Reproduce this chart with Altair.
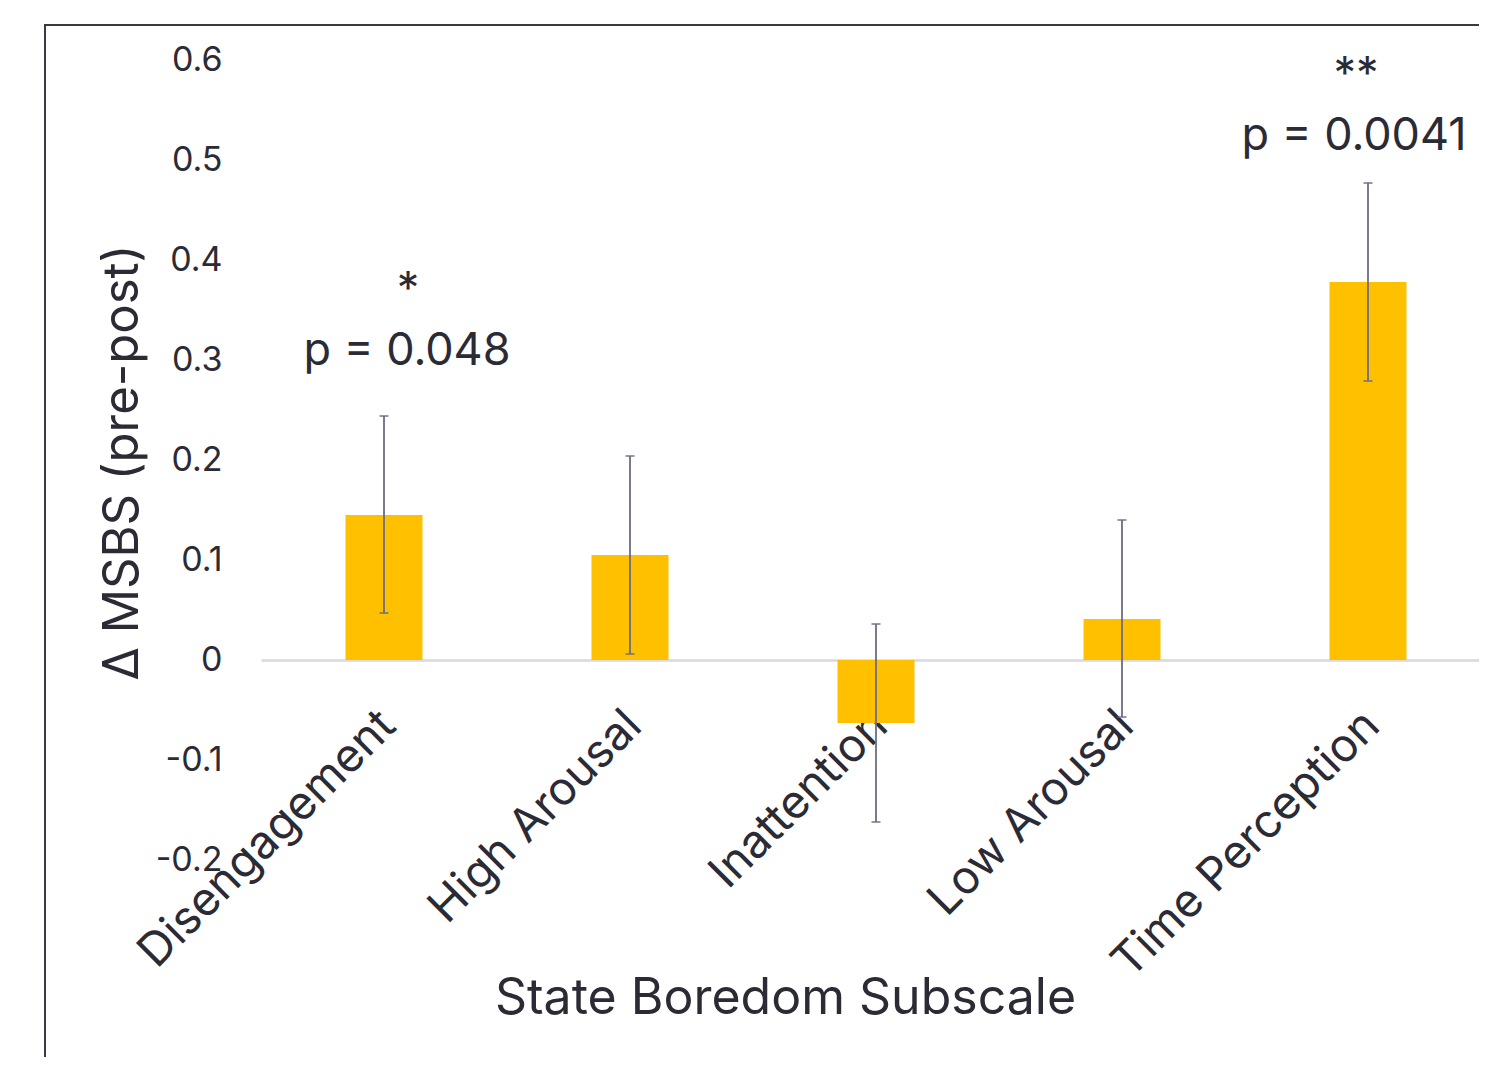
import altair as alt
import pandas as pd

# ---- data ----
categories = ["Disengagement", "High Arousal", "Inattention", "Low Arousal", "Time Perception"]
means = [0.145, 0.105, -0.063, 0.041, 0.378]
err_low = [0.047, 0.006, -0.162, -0.057, 0.279]
err_high = [0.244, 0.204, 0.036, 0.140, 0.477]

y_ticks = [-0.2, -0.1, 0.0, 0.1, 0.2, 0.3, 0.4, 0.5, 0.6]

ann_cats = ["Disengagement", "Disengagement", "Time Perception", "Time Perception"]
ann_texts = ["*", "p = 0.048", "**", "p = 0.0041"]
ann_y = [0.356, 0.295, 0.571, 0.510]

df = pd.DataFrame({"cat": categories, "mean": means, "lo": err_low, "hi": err_high})
ann = pd.DataFrame({"cat": ann_cats, "text": ann_texts, "y": ann_y})

FONT = "Inter"
TEXT = "#2b2b35"
BAR = "#FFC000"
ERR = "#6b6b85"

xscale = alt.Scale(range=[0, 1230], paddingInner=0.687, paddingOuter=0.3435)
yscale = alt.Scale(domain=[-0.2, 0.6], nice=False, zero=False)

x_enc = alt.X(
    "cat:N",
    sort=categories,
    scale=xscale,
    axis=alt.Axis(
        title="State Boredom Subscale",
        offset=-200,
        domainColor="#d9d9de",
        domainWidth=2.5,
        ticks=False,
        tickSize=0,
        labelAngle=-45,
        labelAlign="right",
        labelBaseline="middle",
        labelPadding=58,
        labelOffset=4,
        labelFont=FONT,
        labelFontSize=46,
        labelColor=TEXT,
        labelOverlap=False,
        labelLimit=0,
        titleFont=FONT,
        titleFontSize=50,
        titleFontWeight="normal",
        titleColor=TEXT,
        titleX=524,
        titleY=353,
        titleAlign="center",
        titleBaseline="alphabetic",
    ),
)

y_enc = alt.Y(
    "mean:Q",
    scale=yscale,
    axis=alt.Axis(
        title="Δ MSBS (pre-post)",
        values=y_ticks,
        grid=False,
        domain=False,
        ticks=False,
        tickSize=0,
        labelPadding=39,
        labelFont=FONT,
        labelFontSize=34,
        labelColor=TEXT,
        labelExpr="abs(datum.value) < 1e-9 ? '0' : replace(format(datum.value, '.1f'), '\u2212', '-')",
        titleFont=FONT,
        titleFontSize=49,
        titleFontWeight="normal",
        titleColor=TEXT,
        titleAngle=270,
        titleX=-124,
        titleY=402,
        titleAlign="center",
        titleBaseline="alphabetic",
    ),
)

base = alt.Chart(df)

bars = base.mark_bar(color=BAR).encode(x=x_enc, y=y_enc, y2=alt.datum(0))

err_rule = base.mark_rule(color=ERR, strokeWidth=1.8).encode(
    x=alt.X("cat:N", sort=categories),
    y=alt.Y("lo:Q"),
    y2="hi:Q",
)
cap_lo = base.mark_tick(color=ERR, size=9, thickness=2).encode(
    x=alt.X("cat:N", sort=categories), y=alt.Y("lo:Q")
)
cap_hi = base.mark_tick(color=ERR, size=9, thickness=2).encode(
    x=alt.X("cat:N", sort=categories), y=alt.Y("hi:Q")
)

ann_layers = []
dxs = {"*": 24, "p = 0.048": 23, "**": -12, "p = 0.0041": -14}
for t in ann_texts:
    ann_layers.append(
        alt.Chart(ann)
        .transform_filter(alt.datum.text == t)
        .mark_text(font=FONT, fontSize=45, color=TEXT, baseline="alphabetic", align="center", dx=dxs[t])
        .encode(x=alt.X("cat:N", sort=categories), y=alt.Y("y:Q"), text="text:N")
    )

frame_df = pd.DataFrame({"a": [0]})
frame_left = alt.Chart(frame_df).mark_rule(color="#3a3a46", strokeWidth=2).encode(
    x=alt.value(-216), y=alt.value(-35), y2=alt.value(1100)
)
frame_top = alt.Chart(frame_df).mark_rule(color="#3a3a46", strokeWidth=2).encode(
    x=alt.value(-217), x2=alt.value(1400), y=alt.value(-35)
)

chart = (
    alt.layer(bars, err_rule, cap_lo, cap_hi, *ann_layers, frame_left, frame_top)
    .properties(
        width=1218,
        height=800,
        autosize=alt.AutoSizeParams(type="none"),
        padding={"left": 253, "top": 52, "right": 0, "bottom": 197},
        background="white",
    )
    .configure_view(stroke=None)
)

chart.save("out.html", embed_options={"renderer": "svg", "actions": False})
